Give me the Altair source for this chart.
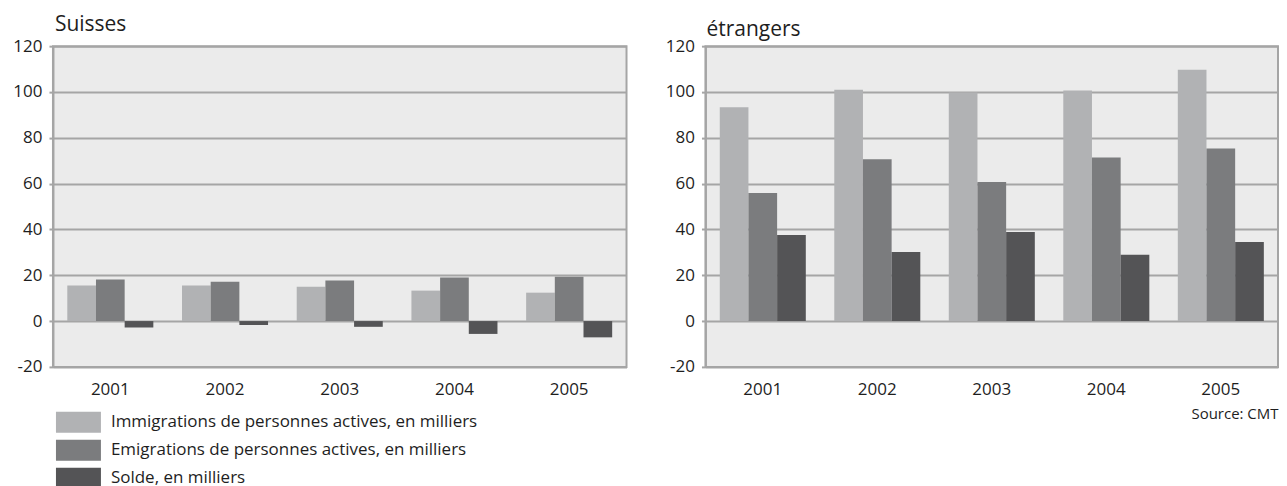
import altair as alt
import pandas as pd

years = ["2001", "2002", "2003", "2004", "2005"]
series = [
    "Immigrations de personnes actives, en milliers",
    "Emigrations de personnes actives, en milliers",
    "Solde, en milliers",
]
colors = ["#b1b2b4", "#7b7c7e", "#545456"]

suisses_immig = [15.5, 15.5, 15.0, 13.3, 12.4]
suisses_emig = [18.1, 17.2, 17.7, 19.0, 19.4]
suisses_solde = [-2.8, -1.7, -2.5, -5.6, -7.1]

etr_immig = [93.3, 101.0, 99.8, 100.7, 109.7]
etr_emig = [55.9, 70.6, 60.7, 71.4, 75.3]
etr_solde = [37.6, 30.2, 38.9, 29.0, 34.5]

y_ticks = [-20, 0, 20, 40, 60, 80, 100, 120]


def long_df(immig, emig, solde):
    rows = []
    for vals, s in zip([immig, emig, solde], series):
        for yr, v in zip(years, vals):
            rows.append({"year": yr, "series": s, "value": v})
    return pd.DataFrame(rows)


df_s = long_df(suisses_immig, suisses_emig, suisses_solde)
df_e = long_df(etr_immig, etr_emig, etr_solde)

GRID = "#a5a5a5"
TXT = "#1e1e1e"
FONT = "Open Sans"
PLOT_H = 321


def y_axis():
    return alt.Axis(
        values=y_ticks, grid=True, gridColor=GRID, gridWidth=2,
        domain=True, domainColor=GRID, domainWidth=2,
        ticks=True, tickColor=GRID, tickWidth=2, tickSize=4,
        labelFont=FONT, labelFontSize=17, labelColor=TXT, labelPadding=7,
        labelExpr="'' + datum.value",
        minExtent=44, maxExtent=44, title=None,
    )


def x_axis(width, title=None):
    kw = dict(
        labelAngle=0, ticks=False, tickSize=0, domain=False, grid=False,
        labelFont=FONT, labelFontSize=17, labelColor=TXT, labelPadding=15,
    )
    if title:
        kw.update(
            title=title, titleAnchor="end", titleAlign="right", titleX=width,
            titleY=52, titleBaseline="alphabetic", titleFont=FONT,
            titleFontSize=15, titleFontWeight="normal", titleColor=TXT,
        )
    else:
        kw["title"] = None
    return alt.Axis(**kw)


def panel(df, title, width, legend, xtitle=None):
    if legend:
        leg = alt.Legend(
            title=None, orient="none", legendX=3, legendY=366,
            symbolType="M-1,-1H3.2857V1H-1Z", symbolSize=441,
            symbolStrokeWidth=0, symbolOpacity=1, labelFont=FONT,
            labelFontSize=17, labelColor=TXT, labelOffset=34, rowPadding=7,
            padding=0, labelLimit=0, labelBaseline="middle",
        )
    else:
        leg = None
    return (
        alt.Chart(df, title=title)
        .mark_bar()
        .encode(
            x=alt.X("year:N", sort=years,
                    scale=alt.Scale(paddingInner=0.25, paddingOuter=0.125),
                    axis=x_axis(width, xtitle)),
            xOffset=alt.XOffset("series:N", sort=series,
                                scale=alt.Scale(paddingInner=0, paddingOuter=0)),
            y=alt.Y("value:Q", scale=alt.Scale(domain=[-20, 120], nice=False),
                    axis=y_axis()),
            color=alt.Color("series:N", sort=series,
                            scale=alt.Scale(domain=series, range=colors),
                            legend=leg),
        )
        .properties(width=width, height=PLOT_H)
    )


left = panel(
    df_s,
    alt.Title("Suisses", anchor="start", frame="group", font=FONT,
              fontSize=21, fontWeight="normal", color=TXT, offset=2, dx=2),
    574, True,
)
right = panel(
    df_e,
    alt.Title("étrangers", anchor="start", frame="group", font=FONT,
              fontSize=21, fontWeight="normal", color=TXT, offset=-3, dx=1),
    573, False, xtitle="Source: CMT",
)

chart = (
    alt.hconcat(left, right, spacing=33)
    .resolve_scale(color="independent")
    .properties(padding={"left": 0, "top": 5, "right": 0, "bottom": 0})
    .configure(font=FONT)
    .configure_view(fill="#ebebeb", stroke=GRID, strokeWidth=2)
)

chart.save("out.html", embed_options={"renderer": "svg", "actions": False})
